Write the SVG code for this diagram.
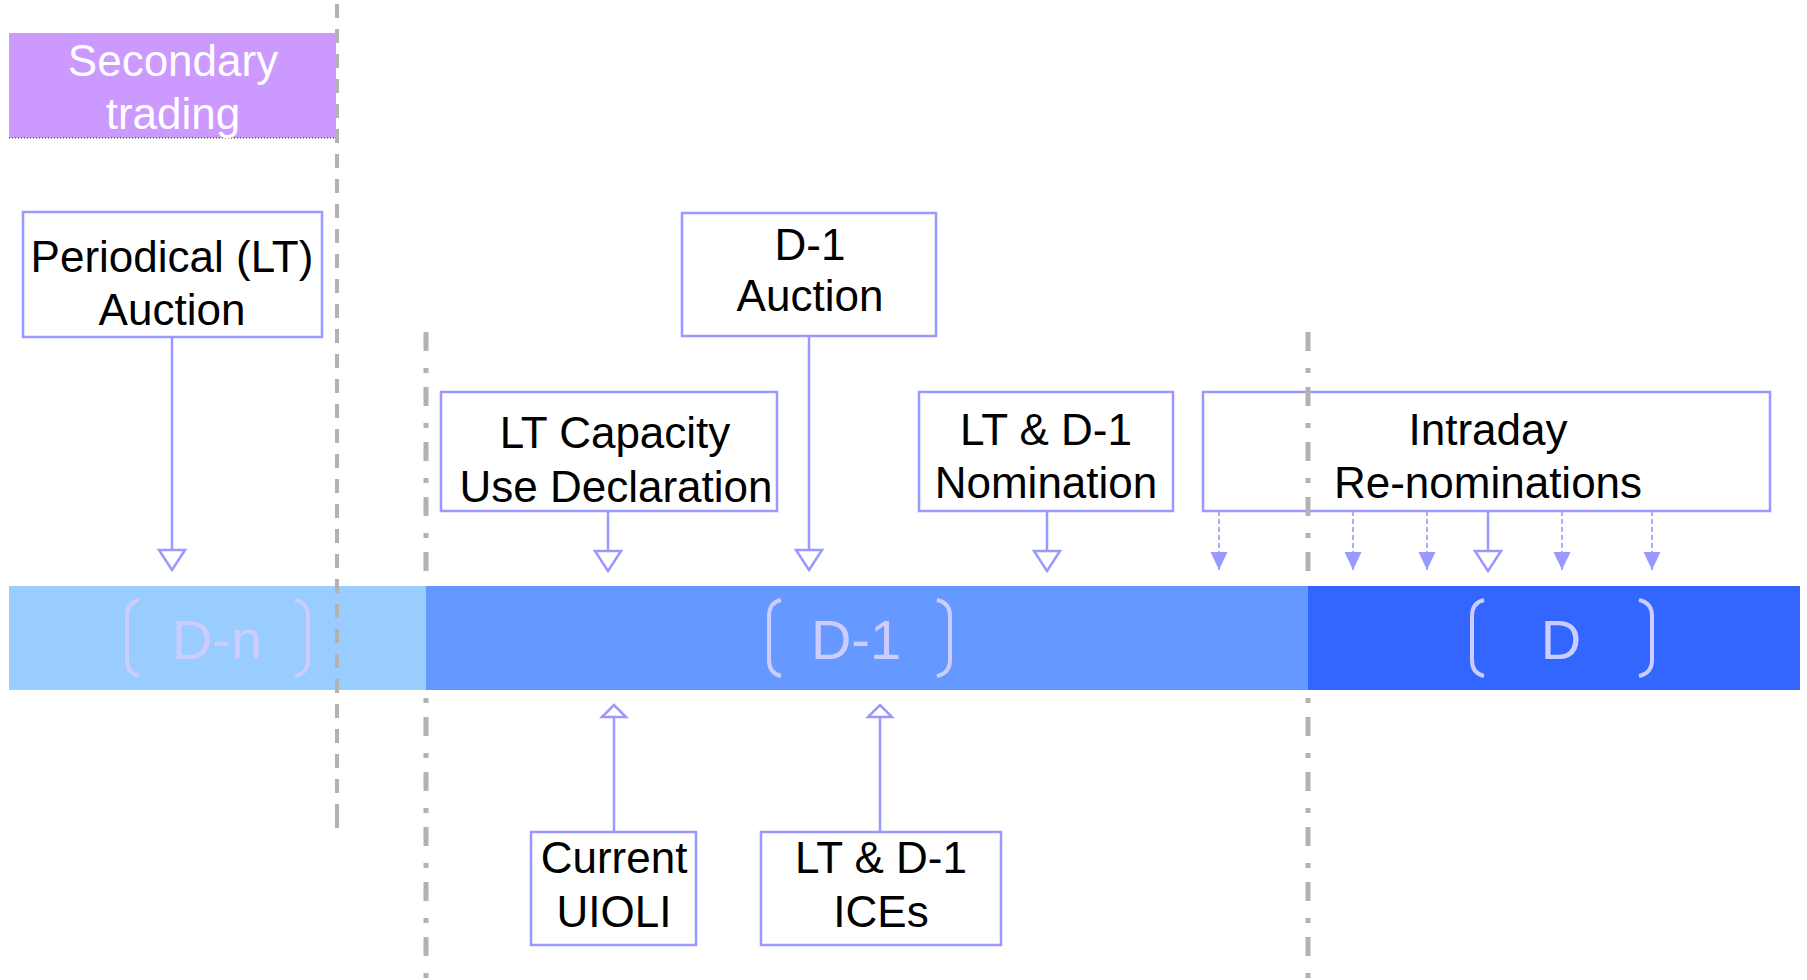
<svg xmlns="http://www.w3.org/2000/svg" width="1807" height="980" viewBox="0 0 1807 980">
<style>
.bg{fill:#ffffff}
.box{fill:#ffffff;stroke:#9999FF;stroke-width:2.5}
.t{font-family:"Liberation Sans",Arial,sans-serif;font-size:44px;fill:#000000;text-anchor:middle}
.tw{fill:#ffffff}
.bl{font-family:"Liberation Sans",Arial,sans-serif;font-size:56px;fill:#CCCCFF;text-anchor:middle}
.br{fill:none;stroke:#CCCCFF;stroke-width:4}
.g1{stroke:#B2B2B2;stroke-width:4;stroke-dasharray:14 11;fill:none}
.g2{stroke:#B2B2B2;stroke-width:5;stroke-dasharray:19 17 5 14;fill:none}
.c{stroke:#9999FF;stroke-width:2.5;fill:none}
.cd{stroke:#9999FF;stroke-width:1.6;stroke-dasharray:5 3;fill:none}
</style>
<defs>
<marker id="open" markerUnits="userSpaceOnUse" viewBox="-2 -16 24 32" markerWidth="24" markerHeight="32" refX="20" refY="0" orient="auto">
<path d="M0,-13 L20,0 L0,13 Z" fill="#ffffff" stroke="#9999FF" stroke-width="2.5"/>
</marker>
<marker id="openS" markerUnits="userSpaceOnUse" viewBox="-2 -16 16 32" markerWidth="16" markerHeight="32" refX="12" refY="0" orient="auto">
<path d="M0,-12 L12,0 L0,12 Z" fill="#ffffff" stroke="#9999FF" stroke-width="2.5"/>
</marker>
<marker id="fill" markerUnits="userSpaceOnUse" viewBox="0 -10 20 20" markerWidth="20" markerHeight="20" refX="18" refY="0" orient="auto">
<path d="M0,-8.5 L18,0 L0,8.5 Z" fill="#9999FF"/>
</marker>
<path id="lb" class="br" d="M14 0 C5 2 2 8 2 16 L2 60 C2 68 5 74 14 76"/>
<path id="rb" class="br" d="M1 0 C10 2 14 8 14 16 L14 60 C14 68 10 74 1 76"/>
</defs>
<rect class="bg" x="0" y="0" width="1807" height="980"/>

<g id="secondary-trading">
<rect x="9" y="33" width="327" height="105" fill="#CC99FF"/>
<line x1="9" y1="138" x2="336" y2="138" stroke="#333333" stroke-width="1" stroke-dasharray="1 2"/>
<text class="t tw" x="173" y="76">Secondary</text>
<text class="t tw" x="173" y="129">trading</text>
</g>

<g id="periodical-auction">
<rect class="box" x="23" y="212" width="299" height="125"/>
<text class="t" x="172" y="272">Periodical (LT)</text>
<text class="t" x="172" y="325">Auction</text>
</g>

<g id="d1-auction">
<rect class="box" x="682" y="213" width="254" height="123"/>
<text class="t" x="810" y="260">D-1</text>
<text class="t" x="810" y="311">Auction</text>
</g>

<g id="lt-capacity">
<rect class="box" x="441" y="392" width="336" height="119"/>
<text class="t" x="615" y="448">LT Capacity</text>
<text class="t" x="616" y="502">Use Declaration</text>
</g>

<g id="nomination">
<rect class="box" x="919" y="392" width="254" height="119"/>
<text class="t" x="1046" y="445">LT &amp; D-1</text>
<text class="t" x="1046" y="498">Nomination</text>
</g>

<g id="intraday">
<rect class="box" x="1203" y="392" width="567" height="119"/>
<text class="t" x="1488" y="445">Intraday</text>
<text class="t" x="1488" y="498">Re-nominations</text>
</g>

<g id="uioli">
<rect class="box" x="531" y="832" width="165" height="113"/>
<text class="t" x="614" y="873">Current</text>
<text class="t" x="614" y="927">UIOLI</text>
</g>

<g id="ices">
<rect class="box" x="761" y="832" width="240" height="113"/>
<text class="t" x="881" y="873">LT &amp; D-1</text>
<text class="t" x="881" y="927">ICEs</text>
</g>

<g id="guides">
<line class="g2" x1="426" y1="332" x2="426" y2="980"/>
<line class="g2" x1="1308" y1="332" x2="1308" y2="980"/>
</g>

<g id="timeline">
<rect x="9" y="586" width="417" height="104" fill="#99CCFF"/>
<rect x="426" y="586" width="882" height="104" fill="#6699FF"/>
<rect x="1308" y="586" width="492" height="104" fill="#3366FF"/>
<use href="#lb" x="125" y="600"/>
<text class="bl" x="217" y="659">D-n</text>
<use href="#rb" x="294" y="600"/>
<use href="#lb" x="767" y="600"/>
<text class="bl" x="856" y="659">D-1</text>
<use href="#rb" x="936" y="600"/>
<use href="#lb" x="1470" y="600"/>
<text class="bl" x="1561" y="659">D</text>
<use href="#rb" x="1638" y="600"/>
</g>

<g id="guide-dn">
<line class="g1" x1="337" y1="4" x2="337" y2="828"/>
<line x1="337" y1="814" x2="337" y2="828" stroke="#B2B2B2" stroke-width="4"/>
</g>

<g id="connectors">
<line class="c" x1="172" y1="337" x2="172" y2="570" marker-end="url(#open)"/>
<line class="c" x1="809" y1="336" x2="809" y2="570" marker-end="url(#open)"/>
<line class="c" x1="608" y1="511" x2="608" y2="571" marker-end="url(#open)"/>
<line class="c" x1="1047" y1="511" x2="1047" y2="571" marker-end="url(#open)"/>
<line class="c" x1="1488" y1="511" x2="1488" y2="571" marker-end="url(#open)"/>
<line class="cd" x1="1219" y1="511" x2="1219" y2="570" marker-end="url(#fill)"/>
<line class="cd" x1="1353" y1="511" x2="1353" y2="570" marker-end="url(#fill)"/>
<line class="cd" x1="1427" y1="511" x2="1427" y2="570" marker-end="url(#fill)"/>
<line class="cd" x1="1562" y1="511" x2="1562" y2="570" marker-end="url(#fill)"/>
<line class="cd" x1="1652" y1="511" x2="1652" y2="570" marker-end="url(#fill)"/>
<line class="c" x1="614" y1="832" x2="614" y2="705" marker-end="url(#openS)"/>
<line class="c" x1="880" y1="832" x2="880" y2="705" marker-end="url(#openS)"/>
</g>
</svg>
